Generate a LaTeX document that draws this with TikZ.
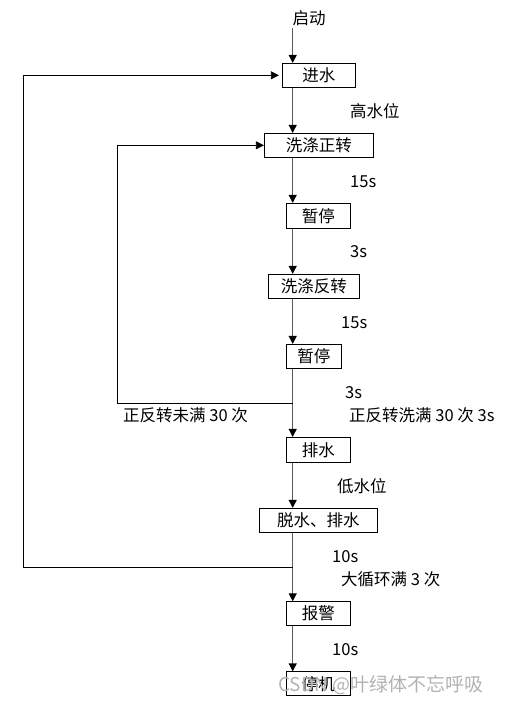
\documentclass[tikz,border=0pt]{standalone}
\usepackage{fontspec}
\setmainfont{Noto Sans CJK SC}
\usetikzlibrary{arrows.meta}
\begin{document}
\begin{tikzpicture}[x=1pt,y=-1pt,
  every node/.style={font=\fontsize{16.5pt}{18pt}\selectfont, inner sep=0pt},
  stepbox/.style={draw=black, line width=0.8pt, minimum height=24pt},
  flow/.style={draw=black!65, line width=1.2pt, -{Triangle[width=8pt,length=8pt,color=black]}},
  looparrow/.style={draw=black, line width=0.8pt, -{Triangle[width=8pt,length=8pt]}},
  lab/.style={anchor=west},
  wm/.style={text=black!30, font=\fontsize{19pt}{20pt}\selectfont}
]
\useasboundingbox (0,0) rectangle (505,704);
\coordinate (axis) at (292.7,0);
\node (qd) at (309,18) {启动};
\coordinate (start) at (292.7,28);
\node[stepbox, minimum width=73pt] (b1) at (318.8,75.3) {进水};
\node[stepbox, minimum width=109pt] (b2) at (318.8,145.3) {洗涤正转};
\node[stepbox, minimum width=64pt, minimum height=25pt] (b3) at (318.3,215.8) {暂停};
\node[stepbox, minimum width=91pt] (b4) at (313.8,286.3) {洗涤反转};
\node[stepbox, minimum width=55pt] (b5) at (313.8,356.3) {暂停};
\node[stepbox, minimum width=64pt, minimum height=25pt] (b6) at (318.3,449.8) {排水};
\node[stepbox, minimum width=118pt] (b7) at (318.3,520.3) {脱水、排水};
\node[stepbox, minimum width=64pt] (b8) at (318.3,613.7) {报警};
\node[stepbox, minimum width=64pt] (b9) at (318.3,683.8) {停机};

\draw[flow] (start) -- (b1.north -| axis);
\draw[flow] (b1.south -| axis) -- (b2.north -| axis);
\draw[flow] (b2.south -| axis) -- (b3.north -| axis);
\draw[flow] (b3.south -| axis) -- (b4.north -| axis);
\draw[flow] (b4.south -| axis) -- (b5.north -| axis);
\draw[flow] (b5.south -| axis) -- (b6.north -| axis);
\draw[flow] (b6.south -| axis) -- (b7.north -| axis);
\draw[flow] (b7.south -| axis) -- (b8.north -| axis);
\draw[flow] (b8.south -| axis) -- (b9.north -| axis);

\coordinate (j1) at (292.7,403.3);
\coordinate (j2) at (292.7,567.3);
\draw[looparrow] (j1) -- (117.7,403.3) |- (b2.west);
\draw[looparrow, shorten >=3pt] (j2) -- (23.3,567.3) |- (b1.west);

\node[lab] (l1) at (350,111) {高水位};
\node[lab] (l2) at (350,182) {15s};
\node[lab] (l3) at (350,252) {3s};
\node[lab] (l4) at (341,323) {15s};
\node[lab] (l5) at (345,393) {3s};
\node[lab] (l6) at (123,415) {正反转未满 30 次};
\node[lab] (l7) at (349,415) {正反转洗满 30 次 3s};
\node[lab] (l8) at (337,486) {低水位};
\node[lab] (l9) at (332,557) {10s};
\node[lab] (l10) at (341,579) {大循环满 3 次};
\node[lab] (l11) at (332,650) {10s};
\node[wm, anchor=west] (wmk) at (278,685) {CSDN @叶绿体不忘呼吸};
\end{tikzpicture}
\end{document}
